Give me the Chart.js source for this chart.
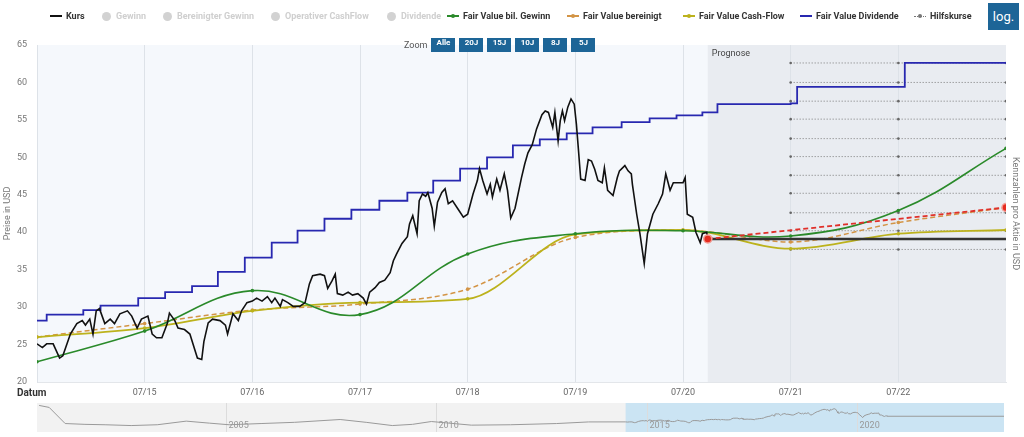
<!DOCTYPE html>
<html>
<head>
<meta charset="utf-8">
<script src="https://cdn.jsdelivr.net/npm/chart.js@4.4.1/dist/chart.umd.min.js"></script>
<style>
  body { margin: 0; width: 1024px; height: 437px; background: #fff; font-family: Roboto, sans-serif; position: relative; overflow: hidden; }
  #main { position: absolute; left: 0; top: 0; }
  #nav { position: absolute; left: 0; top: 400px; }
  .li { position: absolute; top: 10px; height: 12px; display: flex; align-items: center; font: bold 9px Roboto, sans-serif; color: #333; white-space: nowrap; }
  .ln { display: inline-block; width: 12px; height: 0; border-top: 2px solid; margin-right: 4px; position: relative; }
  .ln.dash { border-top-style: dashed; }
  .ln.dots { border-top: 1px dotted; }
  .ln b { position: absolute; left: 4px; top: -3.5px; width: 4px; height: 4px; border-radius: 50%; }
  .ln.dots b { top: -2.5px; }
  .off { color: #cfcfcf; }
  .off .c { width: 9px; height: 9px; border-radius: 50%; background: #d2d2d2; margin-right: 5px; }
  #log { position: absolute; left: 988px; top: 3px; width: 31px; height: 27px; background: #1d6597; color: #fff; font: 13px Roboto, sans-serif; display: flex; align-items: center; justify-content: center; }
  #zoom { position: absolute; left: 404px; top: 38px; height: 14px; display: flex; align-items: center; font: 9px Roboto, sans-serif; color: #555; }
  #zoom span.b { display: inline-block; width: 24px; height: 14px; line-height: 14px; background: #1d6597; color: #fff; font: bold 8px Roboto, sans-serif; text-align: center; margin-left: 4px; }
  #datum { position: absolute; left: 17px; top: 387px; font: bold 10px Roboto, sans-serif; color: #333; }
</style>
</head>
<body>
<canvas id="main" width="1024" height="400"></canvas>
<canvas id="nav" width="1024" height="37"></canvas>

<div class="li" style="left:50px"><i class="ln" style="border-color:#111"></i>Kurs</div>
<div class="li off" style="left:102px"><i class="c"></i>Gewinn</div>
<div class="li off" style="left:163px"><i class="c"></i>Bereinigter Gewinn</div>
<div class="li off" style="left:271px"><i class="c"></i>Operativer CashFlow</div>
<div class="li off" style="left:387px"><i class="c"></i>Dividende</div>
<div class="li" style="left:447px"><i class="ln" style="border-color:#2a8a2a"><b style="background:#2a8a2a"></b></i>Fair Value bil. Gewinn</div>
<div class="li" style="left:567px"><i class="ln dash" style="border-color:#d39445"><b style="background:#d39445"></b></i>Fair Value bereinigt</div>
<div class="li" style="left:683px"><i class="ln" style="border-color:#bcb21c"><b style="background:#bcb21c"></b></i>Fair Value Cash-Flow</div>
<div class="li" style="left:800px"><i class="ln" style="border-color:#2828b0"></i>Fair Value Dividende</div>
<div class="li" style="left:914px"><i class="ln dots" style="border-color:#777"><b style="background:#777"></b></i>Hilfskurse</div>
<div id="log">log.</div>
<div id="zoom">Zoom<span class="b">Alle</span><span class="b">20J</span><span class="b">15J</span><span class="b">10J</span><span class="b">8J</span><span class="b">5J</span></div>
<div id="datum">Datum</div>

<script>
// x axis in decimal years
const xMin = 2014.5, xMax = 2023.5;
const tickYears = [2015.5, 2016.5, 2017.5, 2018.5, 2019.5, 2020.5, 2021.5, 2022.5];
const tickLabels = ['07/15', '07/16', '07/17', '07/18', '07/19', '07/20', '07/21', '07/22'];
const prognoseStart = 2020.73;

// Kurs
const kursYears = [2014.50, 2014.55, 2014.59, 2014.65, 2014.71, 2014.74, 2014.81, 2014.87, 2014.92, 2014.95,
  2014.99, 2015.02, 2015.05, 2015.08, 2015.13, 2015.18, 2015.22, 2015.27, 2015.34, 2015.38,
  2015.43, 2015.47, 2015.53, 2015.57, 2015.61, 2015.66, 2015.71, 2015.73, 2015.78, 2015.81,
  2015.87, 2015.92, 2015.97, 2015.99, 2016.03, 2016.05, 2016.09, 2016.13, 2016.20, 2016.25,
  2016.27, 2016.32, 2016.37, 2016.40, 2016.45, 2016.50, 2016.54, 2016.59, 2016.64, 2016.68,
  2016.71, 2016.76, 2016.78, 2016.83, 2016.88, 2016.94, 2016.99, 2017.03, 2017.06, 2017.13,
  2017.17, 2017.20, 2017.24, 2017.27, 2017.29, 2017.34, 2017.39, 2017.43, 2017.48, 2017.53,
  2017.56, 2017.59, 2017.64, 2017.68, 2017.73, 2017.78, 2017.81, 2017.84, 2017.89, 2017.94,
  2017.96, 2017.99, 2018.03, 2018.05, 2018.08, 2018.11, 2018.13, 2018.17, 2018.19, 2018.22,
  2018.26, 2018.29, 2018.32, 2018.36, 2018.41, 2018.46, 2018.50, 2018.55, 2018.59, 2018.61,
  2018.64, 2018.68, 2018.71, 2018.73, 2018.77, 2018.80, 2018.84, 2018.87, 2018.90, 2018.94,
  2019.00, 2019.03, 2019.06, 2019.10, 2019.14, 2019.19, 2019.22, 2019.25, 2019.29, 2019.31,
  2019.34, 2019.36, 2019.38, 2019.40, 2019.43, 2019.46, 2019.49, 2019.51, 2019.53, 2019.55,
  2019.59, 2019.62, 2019.65, 2019.68, 2019.71, 2019.75, 2019.77, 2019.80, 2019.85, 2019.89,
  2019.91, 2019.96, 2019.99, 2020.02, 2020.03, 2020.07, 2020.10, 2020.14, 2020.17, 2020.22,
  2020.27, 2020.31, 2020.34, 2020.38, 2020.41, 2020.45, 2020.50, 2020.52, 2020.54, 2020.59,
  2020.62, 2020.66, 2020.68, 2020.72, 2020.73];
const kursValues = [25.1, 24.6, 25.1, 25.1, 23.2, 23.5, 26.4, 27.8, 28.2, 27.6,
  28.4, 26.4, 29.5, 29.8, 27.8, 28.4, 27.8, 29.1, 29.5, 28.8,
  27.2, 28.4, 28.8, 26.4, 25.9, 25.9, 27.8, 29.2, 28.2, 27.2,
  27.0, 26.4, 24.1, 23.2, 23.0, 25.4, 27.9, 28.4, 28.2, 27.6,
  26.4, 29.1, 28.2, 29.5, 30.6, 30.8, 31.2, 30.8, 31.4, 30.6,
  31.2, 30.1, 31.0, 30.6, 30.1, 30.1, 30.6, 33.1, 34.2, 34.4,
  34.2, 32.5, 33.5, 34.4, 31.8, 31.6, 32.0, 31.6, 31.8, 31.2,
  30.4, 32.0, 32.6, 33.3, 33.6, 34.6, 36.2, 37.1, 38.5, 39.4,
  41.1, 42.2, 39.8, 44.2, 45.1, 44.8, 45.3, 43.2, 40.8, 44.0,
  45.3, 45.8, 43.8, 44.2, 43.1, 42.0, 42.4, 45.1, 46.9, 48.5,
  46.9, 45.1, 46.4, 44.7, 47.1, 45.6, 47.8, 45.6, 41.9, 43.2,
  47.3, 49.1, 50.6, 51.7, 53.8, 55.7, 56.2, 56.0, 54.0, 56.0,
  52.2, 54.9, 56.2, 54.9, 56.7, 57.8, 57.1, 54.4, 50.8, 47.1,
  46.9, 49.7, 49.5, 48.4, 46.9, 46.6, 48.6, 45.6, 44.9, 47.3,
  48.2, 48.9, 48.2, 47.8, 46.4, 42.4, 39.8, 35.8, 39.8, 42.4,
  43.8, 45.1, 47.8, 45.6, 46.6, 46.6, 46.6, 47.3, 42.4, 42.0,
  40.0, 38.6, 39.8, 40.0, 39.1];
const kursFlatYears = [2020.73, 2023.5];
const kursFlatValues = [39.1, 39.1];

// Fair values (yearly)
const fvYears = [2014.5, 2015.5, 2016.5, 2017.5, 2018.5, 2019.5, 2020.5, 2021.5, 2022.5, 2023.5];
const fvGewinn = [22.7, 26.8, 32.2, 29.0, 37.1, 39.8, 40.2, 39.5, 42.9, 51.2];
const fvBereinigt = [26.0, 27.8, 29.6, 30.4, 32.4, 39.3, 40.3, 38.7, 41.3, 43.3];
const fvCashflow = [26.0, 27.2, 29.5, 30.6, 31.1, 39.7, 40.3, 37.8, 39.8, 40.3];

// Fair Value Dividende (steps)
const divYears = [2014.50, 2014.59, 2014.93, 2015.09, 2015.44, 2015.69, 2015.94, 2016.18, 2016.43, 2016.68,
  2016.92, 2017.17, 2017.42, 2017.68, 2017.94, 2018.18, 2018.43, 2018.68, 2018.92, 2019.17,
  2019.42, 2019.66, 2019.93, 2020.19, 2020.44, 2020.68, 2020.82, 2021.50, 2021.56, 2022.49,
  2022.56, 2023.50];
const divValues = [28.2, 29.0, 29.6, 30.2, 31.2, 32.0, 32.8, 34.7, 36.6, 38.6,
  40.2, 41.8, 43.0, 44.2, 45.3, 46.9, 48.5, 50.0, 51.6, 52.4,
  53.2, 54.0, 54.7, 55.2, 55.6, 56.0, 57.1, 57.2, 59.4, 59.4,
  62.6, 62.6];

// trend bereinigt (red)
const trendYears = [2020.73, 2023.5];
const trendValues = [39.1, 43.3];

// Hilfskurse
const hilfsYears = [2021.5, 2022.5, 2023.5];
const hilfsLevels = [37.7, 40.2, 42.6, 45.2, 47.6, 50.1, 52.5, 55.1, 57.5, 60.0, 62.6];

// navigator: older history, then Kurs
const navYears = [2000.55, 2000.79, 2001.17, 2001.64, 2002.12, 2002.74, 2003.36, 2004.05, 2004.60, 2005.07,
  2005.83, 2006.62, 2007.71, 2008.33, 2008.95, 2009.43, 2009.88, 2010.83, 2011.76, 2012.86, 2013.62];
const navValues = [66, 61, 21, 19, 18, 16, 18, 27, 22, 18,
  21, 24, 31, 24, 16, 19, 26, 17, 18, 21, 25];
const navTickYears = [2005, 2010, 2015, 2020];
const navTickLabels = ['2005', '2010', '2015', '2020'];

const pts = (xs, ys) => xs.map((x, i) => ({ x: x, y: ys[i] }));

const bgPlugin = {
  id: 'bg',
  beforeDraw(chart) {
    const { ctx, chartArea: a, scales: { x } } = chart;
    ctx.save();
    ctx.fillStyle = '#f5f8fc';
    ctx.fillRect(a.left, a.top, a.right - a.left, a.bottom - a.top);
    const px = x.getPixelForValue(prognoseStart);
    ctx.fillStyle = '#e9ecf1';
    ctx.fillRect(px, a.top, a.right - px, a.bottom - a.top);
    ctx.fillStyle = '#444';
    ctx.font = '9px Roboto';
    ctx.textBaseline = 'middle';
    ctx.fillText('Prognose', px + 4, a.top + 9);
    ctx.restore();
  }
};

const hilfsSets = hilfsLevels.map(v => ({
  data: pts(hilfsYears, hilfsYears.map(() => v)),
  borderColor: '#7a7a7a', borderWidth: 1, borderDash: [1, 2],
  pointRadius: 1.3, pointBackgroundColor: '#666', pointBorderWidth: 0
}));

new Chart(document.getElementById('main'), {
  type: 'line',
  data: {
    datasets: [
      { data: pts(trendYears, trendValues), borderColor: '#e0302a', borderWidth: 1.8, borderDash: [5, 3],
        pointRadius: 4, pointBackgroundColor: '#e52b1f', pointBorderColor: '#f39a92', pointBorderWidth: 1.5 },
      { data: pts(kursYears, kursValues), borderColor: '#111', borderWidth: 1.6, pointRadius: 0 },
      { data: pts(kursFlatYears, kursFlatValues), borderColor: '#333', borderWidth: 2.5, pointRadius: 0 },
      { data: pts(divYears, divValues), borderColor: '#2828b0', borderWidth: 1.8, pointRadius: 0, stepped: true },
      { data: pts(fvYears, fvGewinn), borderColor: '#2a8a2a', borderWidth: 1.6, tension: 0.4,
        pointRadius: 1.8, pointBackgroundColor: '#2a8a2a', pointBorderWidth: 0 },
      { data: pts(fvYears, fvCashflow), borderColor: '#bcb21c', borderWidth: 1.8, cubicInterpolationMode: 'monotone',
        pointRadius: 1.8, pointBackgroundColor: '#bcb21c', pointBorderWidth: 0 },
      { data: pts(fvYears, fvBereinigt), borderColor: '#d39445', borderWidth: 1.5, borderDash: [5, 3], cubicInterpolationMode: 'monotone',
        pointRadius: 1.8, pointBackgroundColor: '#d39445', pointBorderWidth: 0 },
      ...hilfsSets
    ]
  },
  options: {
    responsive: false,
    animation: false,
    layout: { padding: { top: 45 } },
    plugins: { legend: { display: false }, tooltip: { enabled: false } },
    scales: {
      x: {
        type: 'linear', min: xMin, max: xMax,
        afterBuildTicks: s => { s.ticks = tickYears.map(v => ({ value: v })); },
        ticks: { callback: (v, i) => tickLabels[i], color: '#666', font: { family: 'Roboto', size: 9 }, padding: 5, maxRotation: 0, autoSkip: false },
        grid: { color: '#dde2e8', drawTicks: false },
        border: { color: '#e3e6ea' },
        afterFit: s => { s.height = 18; }
      },
      y: {
        position: 'left', min: 20, max: 65,
        ticks: { stepSize: 5, color: '#777', font: { family: 'Roboto', size: 9 }, padding: 10 },
        grid: { display: false, drawTicks: false },
        border: { color: '#dde2e8' },
        title: { display: true, text: 'Preise in USD', color: '#777', font: { family: 'Roboto', size: 9 }, padding: { top: 2, bottom: 0 } },
        afterFit: s => { s.width = 37; }
      },
      y1: {
        position: 'right', min: 20, max: 65, display: true,
        ticks: { display: false },
        grid: { display: false, drawTicks: false },
        border: { display: false },
        title: { display: true, text: 'Kennzahlen pro Aktie in USD', color: '#777', font: { family: 'Roboto', size: 9 }, padding: { top: 3, bottom: 0 } },
        afterFit: s => { s.width = 18; }
      }
    }
  },
  plugins: [bgPlugin]
});

// navigator
const navPlugin = {
  id: 'navbg',
  beforeDatasetsDraw(chart) {
    const { ctx, chartArea: a, scales: { x } } = chart;
    ctx.save();
    ctx.fillStyle = '#f2f2f2';
    ctx.fillRect(a.left, a.top, a.right - a.left, a.bottom - a.top);
    const s0 = x.getPixelForValue(xMin), s1 = x.getPixelForValue(xMax);
    ctx.fillStyle = '#cbe4f3';
    ctx.fillRect(s0, a.top, s1 - s0, a.bottom - a.top);
    ctx.strokeStyle = '#dcdcdc';
    ctx.lineWidth = 1;
    ctx.font = '9px Roboto';
    ctx.textBaseline = 'bottom';
    navTickYears.forEach((yr, i) => {
      const px = Math.round(x.getPixelForValue(yr)) + 0.5;
      ctx.beginPath(); ctx.moveTo(px, a.top); ctx.lineTo(px, a.bottom); ctx.stroke();
      ctx.fillStyle = '#999';
      ctx.fillText(navTickLabels[i], px + 2, a.bottom - 2);
    });
    ctx.restore();
  }
};

new Chart(document.getElementById('nav'), {
  type: 'line',
  data: {
    datasets: [{
      data: pts(navYears, navValues).concat(pts(kursYears, kursValues), pts(kursFlatYears, kursFlatValues)),
      borderColor: '#9a9a9a', borderWidth: 1, pointRadius: 0
    }]
  },
  options: {
    responsive: false,
    animation: false,
    layout: { padding: { left: 37, right: 20, top: 3, bottom: 5 } },
    plugins: { legend: { display: false }, tooltip: { enabled: false } },
    scales: {
      x: { type: 'linear', display: false, min: 2000.5, max: xMax },
      y: { display: false, min: 0, max: 72 }
    }
  },
  plugins: [navPlugin]
});
</script>
</body>
</html>
